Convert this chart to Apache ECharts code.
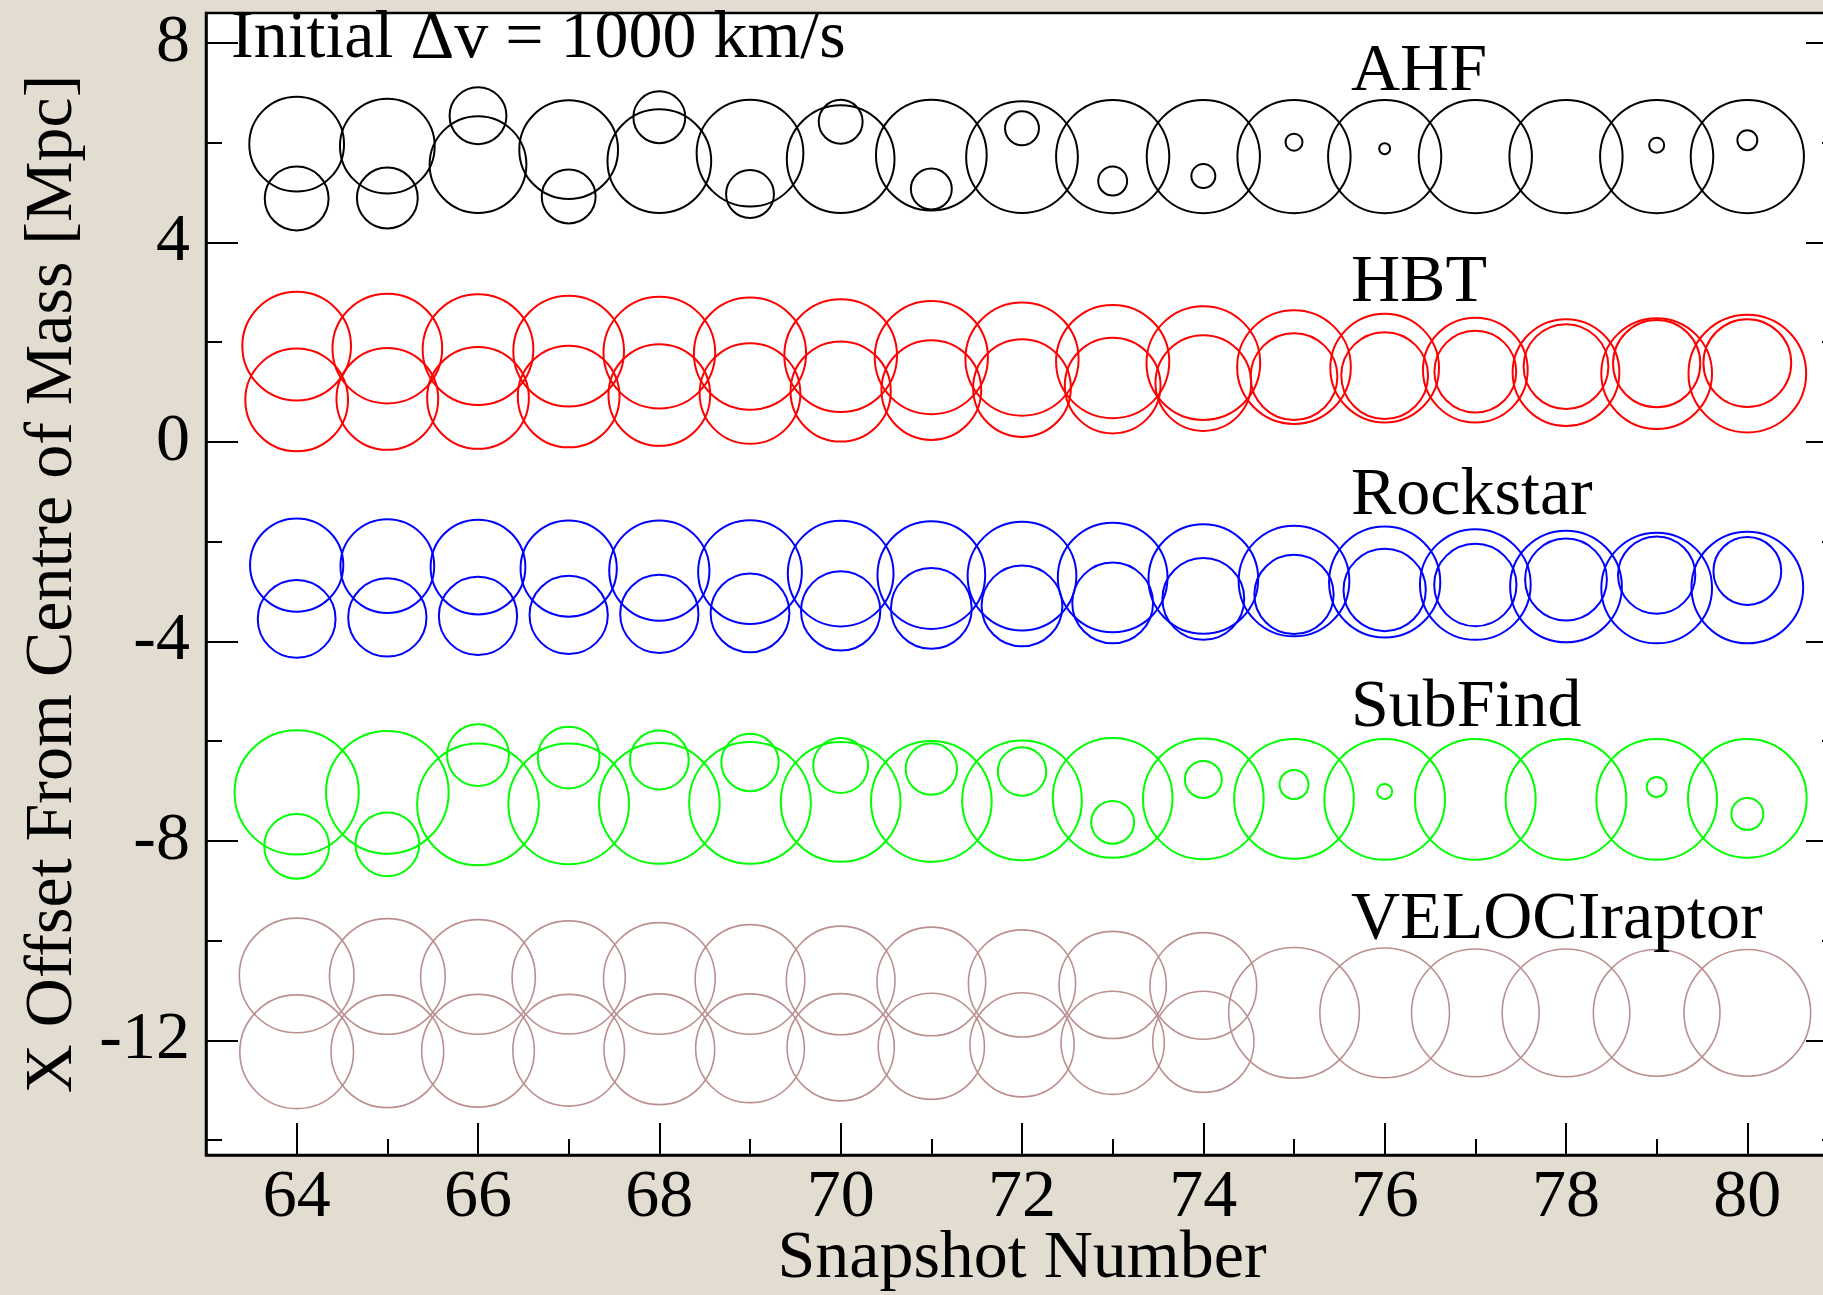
<!DOCTYPE html>
<html>
<head>
<meta charset="utf-8">
<script src="https://cdn.jsdelivr.net/npm/echarts@6/dist/echarts.min.js"></script>
<style>
  html, body { margin: 0; padding: 0; background: #e2ddd0; }
  #chart { width: 1823px; height: 1295px; }
</style>
</head>
<body>
<div id="chart"></div>
<script>
// Snapshot numbers (x)
const snapshots = [64, 65, 66, 67, 68, 69, 70, 71, 72, 73, 74, 75, 76, 77, 78, 79, 80];

// Each circle: centre X offset [Mpc] and radius [Mpc]; null = no halo found
// AHF
const ahfHostY = [5.97, 5.93, 5.56, 5.86, 5.63, 5.79, 5.67, 5.75, 5.71, 5.72, 5.72, 5.72, 5.72, 5.72, 5.72, 5.72, 5.72];
const ahfHostR = [0.95, 0.95, 0.97, 0.99, 1.04, 1.07, 1.08, 1.11, 1.12, 1.135, 1.135, 1.135, 1.135, 1.135, 1.135, 1.135, 1.135];
const ahfSubY  = [4.88, 4.89, 6.54, 4.92, 6.51, 4.97, 6.42, 5.07, 6.29, 5.23, 5.33, 6.01, 5.88, null, null, 5.95, 6.05];
const ahfSubR  = [0.64, 0.61, 0.57, 0.54, 0.52, 0.48, 0.44, 0.41, 0.34, 0.29, 0.24, 0.17, 0.11, null, null, 0.15, 0.20];
// HBT
const hbtAY = [1.92, 1.87, 1.85, 1.82, 1.79, 1.77, 1.73, 1.69, 1.66, 1.61, 1.58, 1.50, 1.48, 1.44, 1.39, 1.37, 1.37];
const hbtAR = [1.09, 1.10, 1.11, 1.11, 1.12, 1.125, 1.13, 1.135, 1.135, 1.135, 1.14, 1.14, 1.09, 1.05, 1.07, 1.11, 1.18];
const hbtBY = [0.84, 0.86, 0.88, 0.91, 0.94, 0.97, 1.01, 1.04, 1.08, 1.13, 1.18, 1.31, 1.33, 1.41, 1.51, 1.57, 1.58];
const hbtBR = [1.03, 1.02, 1.02, 1.02, 1.02, 1.01, 1.005, 1.0, 0.98, 0.96, 0.96, 0.87, 0.87, 0.82, 0.85, 0.875, 0.88];
// Rockstar
const rockAY = [-2.47, -2.49, -2.51, -2.54, -2.58, -2.61, -2.64, -2.67, -2.69, -2.72, -2.75, -2.79, -2.81, -2.86, -2.90, -2.93, -2.92];
const rockAR = [0.935, 0.94, 0.95, 0.965, 1.005, 1.04, 1.06, 1.08, 1.09, 1.10, 1.10, 1.11, 1.115, 1.11, 1.12, 1.11, 1.12];
const rockBY = [-3.55, -3.52, -3.49, -3.47, -3.45, -3.43, -3.39, -3.34, -3.29, -3.23, -3.15, -3.06, -2.97, -2.87, -2.76, -2.67, -2.59];
const rockBR = [0.78, 0.785, 0.785, 0.785, 0.785, 0.79, 0.795, 0.81, 0.81, 0.81, 0.82, 0.795, 0.825, 0.825, 0.82, 0.775, 0.68];
// SubFind
const subHostY = [-7.03, -7.03, -7.27, -7.26, -7.25, -7.24, -7.22, -7.21, -7.19, -7.14, -7.16, -7.16, -7.17, -7.17, -7.17, -7.17, -7.15];
const subHostR = [1.245, 1.23, 1.22, 1.21, 1.21, 1.22, 1.20, 1.21, 1.20, 1.20, 1.21, 1.20, 1.21, 1.21, 1.21, 1.21, 1.19];
const subSubY  = [-8.11, -8.07, -6.28, -6.33, -6.38, -6.43, -6.49, -6.56, -6.61, -7.63, -6.77, -6.87, -7.01, null, null, -6.92, -7.46];
const subSubR  = [0.65, 0.64, 0.62, 0.62, 0.59, 0.575, 0.55, 0.515, 0.485, 0.43, 0.37, 0.29, 0.15, null, null, 0.20, 0.32];
// VELOCIraptor
const velAY = [-10.70, -10.72, -10.73, -10.74, -10.76, -10.78, -10.80, -10.82, -10.86, -10.89, -10.91, -11.45, -11.45, -11.45, -11.45, -11.45, -11.45];
const velAR = [1.15, 1.16, 1.15, 1.135, 1.12, 1.10, 1.09, 1.09, 1.075, 1.075, 1.07, 1.31, 1.30, 1.28, 1.28, 1.27, 1.27];
const velBY = [-12.23, -12.22, -12.21, -12.20, -12.18, -12.16, -12.14, -12.12, -12.09, -12.05, -12.03, null, null, null, null, null, null];
const velBR = [1.14, 1.13, 1.13, 1.12, 1.11, 1.09, 1.075, 1.065, 1.045, 1.035, 1.015, null, null, null, null, null, null];

// Axis ticks
const xMajorTicks = [64, 66, 68, 70, 72, 74, 76, 78, 80];
const xMinorTicks = [65, 67, 69, 71, 73, 75, 77, 79];
const yMajorTicks = [-12, -8, -4, 0, 4, 8];
const yMinorTicks = [-14, -10, -6, -2, 2, 6];

const FONT = '"Liberation Serif", "Times New Roman", serif';

function circles(ys, rs) {
  const out = [];
  snapshots.forEach((s, i) => {
    if (ys[i] !== null && rs[i] !== null) out.push([s, ys[i], rs[i]]);
  });
  return out;
}

function circleSeries(name, ys, rs, color, lw) {
  return {
    type: 'custom',
    name: name,
    xAxisIndex: 0,
    yAxisIndex: 0,
    clip: true,
    silent: true,
    data: circles(ys, rs),
    renderItem: function (params, api) {
      const c = api.coord([api.value(0), api.value(1)]);
      const r = api.size([0, api.value(2)])[1];
      return {
        type: 'circle',
        shape: { cx: c[0], cy: c[1], r: r },
        style: { fill: null, stroke: color, lineWidth: lw }
      };
    }
  };
}

const chart = echarts.init(document.getElementById('chart'), null, { renderer: 'canvas' });

const baseX = { type: 'value', min: 63, max: 81, splitLine: { show: false } };
const baseY = { type: 'value', min: -14.3, max: 8.6, splitLine: { show: false } };

const option = {
  backgroundColor: '#e2ddd0',
  animation: false,
  grid: {
    left: 206, top: 13, width: 1632, height: 1142,
    show: true, backgroundColor: '#ffffff', borderColor: '#000', borderWidth: 2.5,
    containLabel: false,
    outerBoundsMode: 'none'
  },
  xAxis: [
    Object.assign({}, baseX, {
      position: 'bottom',
      axisLine: { show: true, onZero: false, lineStyle: { color: '#000', width: 2.5 } },
      axisTick: { show: true, inside: true, length: 32, lineStyle: { color: '#000', width: 2 }, customValues: xMajorTicks },
      axisLabel: { show: true, customValues: xMajorTicks, margin: 9, fontFamily: FONT, fontSize: 68, color: '#000' }
    }),
    Object.assign({}, baseX, {
      position: 'bottom',
      axisLine: { show: false, onZero: false },
      axisTick: { show: true, inside: true, length: 16, lineStyle: { color: '#000', width: 2 }, customValues: xMinorTicks },
      axisLabel: { show: false }
    })
  ],
  yAxis: [
    Object.assign({}, baseY, {
      position: 'left',
      axisLine: { show: true, onZero: false, lineStyle: { color: '#000', width: 2.5 } },
      axisTick: { show: true, inside: true, length: 32, lineStyle: { color: '#000', width: 2 }, customValues: yMajorTicks },
      axisLabel: { show: true, customValues: yMajorTicks, margin: 16, fontFamily: FONT, fontSize: 68, color: '#000' }
    }),
    Object.assign({}, baseY, {
      position: 'left',
      axisLine: { show: false, onZero: false },
      axisTick: { show: true, inside: true, length: 16, lineStyle: { color: '#000', width: 2 }, customValues: yMinorTicks },
      axisLabel: { show: false }
    }),
    Object.assign({}, baseY, {
      position: 'right',
      axisLine: { show: false, onZero: false },
      axisTick: { show: true, inside: true, length: 32, lineStyle: { color: '#000', width: 2 }, customValues: yMajorTicks },
      axisLabel: { show: false }
    }),
    Object.assign({}, baseY, {
      position: 'right',
      axisLine: { show: false, onZero: false },
      axisTick: { show: true, inside: true, length: 16, lineStyle: { color: '#000', width: 2 }, customValues: yMinorTicks },
      axisLabel: { show: false }
    })
  ],
  series: [
    circleSeries('AHF host', ahfHostY, ahfHostR, '#000000', 2),
    circleSeries('AHF sub', ahfSubY, ahfSubR, '#000000', 2),
    circleSeries('HBT A', hbtAY, hbtAR, '#ff0000', 2),
    circleSeries('HBT B', hbtBY, hbtBR, '#ff0000', 2),
    circleSeries('Rockstar A', rockAY, rockAR, '#0000ff', 2),
    circleSeries('Rockstar B', rockBY, rockBR, '#0000ff', 2),
    circleSeries('SubFind host', subHostY, subHostR, '#00ff00', 2),
    circleSeries('SubFind sub', subSubY, subSubR, '#00ff00', 2),
    circleSeries('VELOCIraptor A', velAY, velAR, '#bc8f8f', 1.6),
    circleSeries('VELOCIraptor B', velBY, velBR, '#bc8f8f', 1.6)
  ],
  graphic: [
    { type: 'text', x: 231, y: 39, z: 100, style: { text: 'Initial \u0394v = 1000 km/s', font: '68px ' + FONT, fill: '#000', align: 'left', verticalAlign: 'middle' } },
    { type: 'text', x: 1351, y: 72, z: 100, style: { text: 'AHF', font: '68px ' + FONT, fill: '#000', align: 'left', verticalAlign: 'middle' } },
    { type: 'text', x: 1351, y: 283, z: 100, style: { text: 'HBT', font: '68px ' + FONT, fill: '#000', align: 'left', verticalAlign: 'middle' } },
    { type: 'text', x: 1351, y: 496, z: 100, style: { text: 'Rockstar', font: '68px ' + FONT, fill: '#000', align: 'left', verticalAlign: 'middle' } },
    { type: 'text', x: 1351, y: 708, z: 100, style: { text: 'SubFind', font: '68px ' + FONT, fill: '#000', align: 'left', verticalAlign: 'middle' } },
    { type: 'text', x: 1351, y: 920, z: 100, style: { text: 'VELOCIraptor', font: '68px ' + FONT, fill: '#000', align: 'left', verticalAlign: 'middle' } },
    { type: 'text', x: 53, y: 584, rotation: Math.PI / 2, z: 100, style: { text: 'X Offset From Centre of Mass [Mpc]', font: '68px ' + FONT, fill: '#000', align: 'center', verticalAlign: 'middle' } },
    { type: 'text', x: 1022, y: 1259, z: 100, style: { text: 'Snapshot Number', font: '68px ' + FONT, fill: '#000', align: 'center', verticalAlign: 'middle' } }
  ]
};

chart.setOption(option);
</script>
</body>
</html>
